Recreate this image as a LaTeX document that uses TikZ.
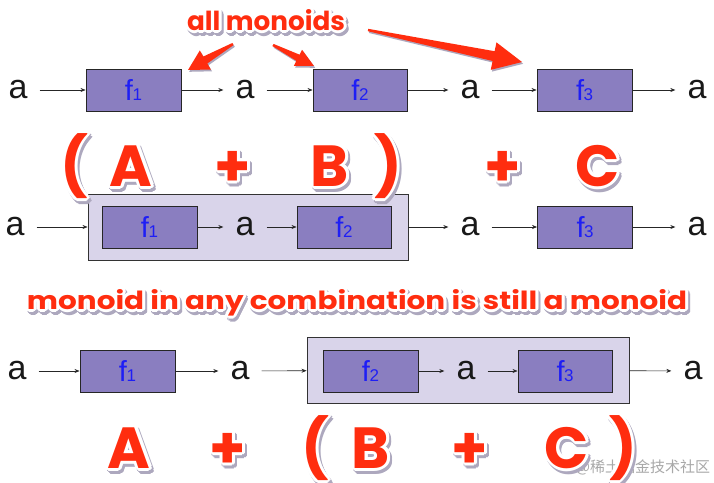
\documentclass[tikz,border=0pt]{standalone}
\usepackage{fontspec}
\usepackage{graphicx}
\setmainfont{Liberation Sans}
\newfontfamily\comic{Poppins}
\newfontfamily\cjk{Noto Sans CJK SC}
\usetikzlibrary{arrows.meta,calc}
\definecolor{boxfill}{HTML}{8A7EC0}
\definecolor{outerfill}{HTML}{D9D4EA}
\definecolor{fblue}{HTML}{1E1EF5}
\definecolor{hot}{HTML}{FF2D0F}
\definecolor{shadowc}{HTML}{ADA8BE}
\definecolor{wmc}{HTML}{A8A8A8}
\tikzset{
  fbox/.style={draw=black!85, line width=0.9pt, fill=boxfill, minimum width=95pt, minimum height=42pt, inner sep=0pt,
    text=fblue, font=\fontsize{29}{29}\selectfont},
  obox/.style={draw=black!80, line width=0.9pt, fill=outerfill, inner sep=0pt},
  aval/.style={font=\fontsize{34}{34}\selectfont, inner xsep=12pt, inner ysep=2pt, text=black!90},
  conn/.style={-{Stealth[length=5pt,width=4pt]}, line width=0.6pt, black!85},
  rtxt/.style={anchor=base, inner sep=0pt}
}
\newcommand\fsub[1]{f\kern-0.5pt{\fontsize{17}{17}\selectfont #1}}
% #1 name, #2 position, #3 font size, #4 text
\newcommand\redtxt[4]{%
  \foreach \ang in {0,30,...,330}{
    \node[rtxt, font=\comic\bfseries\fontsize{#3}{#3}\selectfont, text=shadowc,
      xshift={2pt+3pt*cos(\ang)}, yshift={-3pt+3pt*sin(\ang)}] at (#2) {#4};}
  \foreach \ang in {0,30,...,330}{
    \node[rtxt, font=\comic\bfseries\fontsize{#3}{#3}\selectfont, text=white,
      xshift={3pt*cos(\ang)}, yshift={3pt*sin(\ang)}] at (#2) {#4};}
  \node[rtxt, font=\comic\bfseries\fontsize{#3}{#3}\selectfont, text=hot] (#1) at (#2) {#4};
}
% #1 tail, #2 tip, #3 head length, #4 half head width, #5 half shaft width
\newcommand\fatarrow[5]{%
  \coordinate (fap) at ($(#2)!#3!(#1)$);
  \foreach \sx/\sy/\col in {1.2/1.8/shadowc,0/0/hot}{
    \fill[\col] ($(#1)!1.2pt!90:(#2)+(\sx,\sy)$) -- ($(fap)!#5!90:(#2)+(\sx,\sy)$)
      -- ($(fap)!#4!90:(#2)+(\sx,\sy)$) -- ($(#2)+(\sx,\sy)$)
      -- ($(fap)!#4!-90:(#2)+(\sx,\sy)$) -- ($(fap)!#5!-90:(#2)+(\sx,\sy)$)
      -- ($(#1)!1.2pt!-90:(#2)+(\sx,\sy)$) -- cycle;}
}
\begin{document}
\begin{tikzpicture}[x=1pt,y=-1pt]
\fill[white] (0,0) rectangle (714,482);
\useasboundingbox (0,0) rectangle (714,482);

% ---------- row 1 ----------
\node[aval] (a11) at (18,90) {a};
\node[fbox] (f11) at (133.5,90) {\fsub{1}};
\node[aval] (a12) at (245,90) {a};
\node[fbox, minimum width=94pt] (f12) at (360,90) {\fsub{2}};
\node[aval] (a13) at (470,90) {a};
\node[fbox] (f13) at (584.5,90) {\fsub{3}};
\node[aval] (a14) at (697,90) {a};
\draw[conn] (a11) -- (f11);
\draw[conn] (f11) -- (a12);
\draw[conn] (a12) -- (f12);
\draw[conn] (f12) -- (a13);
\draw[conn] (a13) -- (f13);
\draw[conn] (f13) -- (a14);

% ---------- row 3 ----------
\node[obox, minimum width=320pt, minimum height=66pt] (o2) at (248,227) {};
\node[aval] (a21) at (15,227) {a};
\node[fbox] (f21) at (149.5,227) {\fsub{1}};
\node[aval] (a22) at (245,227) {a};
\node[fbox, minimum width=94pt] (f22) at (344,227) {\fsub{2}};
\node[aval] (a23) at (470,227) {a};
\node[fbox] (f23) at (585,227) {\fsub{3}};
\node[aval] (a24) at (697,227) {a};
\draw[conn] (a21) -- (o2);
\draw[conn] (f21) -- (a22);
\draw[conn] (a22) -- (f22);
\draw[conn] (o2) -- (a23);
\draw[conn] (a23) -- (f23);
\draw[conn] (f23) -- (a24);

% ---------- row 5 ----------
\node[obox, minimum width=322pt, minimum height=66pt] (o3) at (468,370) {};
\node[aval] (a31) at (17,371) {a};
\node[fbox] (f31) at (127.5,371) {\fsub{1}};
\node[aval] (a32) at (240,371) {a};
\node[fbox] (f32) at (370.5,371) {\fsub{2}};
\node[aval] (a33) at (466,371) {a};
\node[fbox, minimum width=94pt] (f33) at (565,371) {\fsub{3}};
\node[aval] (a34) at (693,371) {a};
\draw[conn] (a31) -- (f31);
\draw[conn] (f31) -- (a32);
\draw[conn] (a32) -- (o3);
\draw[conn] (f32) -- (a33);
\draw[conn] (a33) -- (f33);
\draw[conn] (o3) -- (a34);

% ---------- watermark ----------
\node[font=\cjk\fontsize{15}{15}\selectfont, text=wmc] (wm) at (643,467) {@稀土掘金技术社区};

% ---------- red annotations ----------
\redtxt{title}{266,30}{30}{\resizebox{158pt}{21pt}{all monoids}}
\coordinate (t1) at (233,44); \coordinate (h1) at (188,70);
\coordinate (t2) at (273,45); \coordinate (h2) at (314,66);
\coordinate (t3) at (368,30); \coordinate (h3) at (522,62);
\fatarrow{t1}{h1}{20pt}{11pt}{4pt}
\fatarrow{t2}{h2}{18pt}{9pt}{3.5pt}
\fatarrow{t3}{h3}{29pt}{14pt}{5pt}

\redtxt{p1}{74,186}{58}{(}
\redtxt{A1}{131,186}{58}{A}
\redtxt{pl1}{233,186}{58}{+}
\redtxt{B1}{330,186}{58}{B}
\redtxt{q1}{388,186}{58}{)}
\redtxt{pl2}{503,186}{58}{+}
\redtxt{C1}{598,186}{58}{C}

\redtxt{slogan}{357,309}{28}{\resizebox{660pt}{20pt}{monoid in any combination is still a monoid}}

\redtxt{A2}{129,468}{58}{A}
\redtxt{pl3}{228,468}{58}{+}
\redtxt{p2}{315,468}{58}{(}
\redtxt{B2}{371,468}{58}{B}
\redtxt{pl4}{470,468}{58}{+}
\redtxt{C2}{567,468}{58}{C}
\redtxt{q2}{623,468}{58}{)}
\end{tikzpicture}
\end{document}
